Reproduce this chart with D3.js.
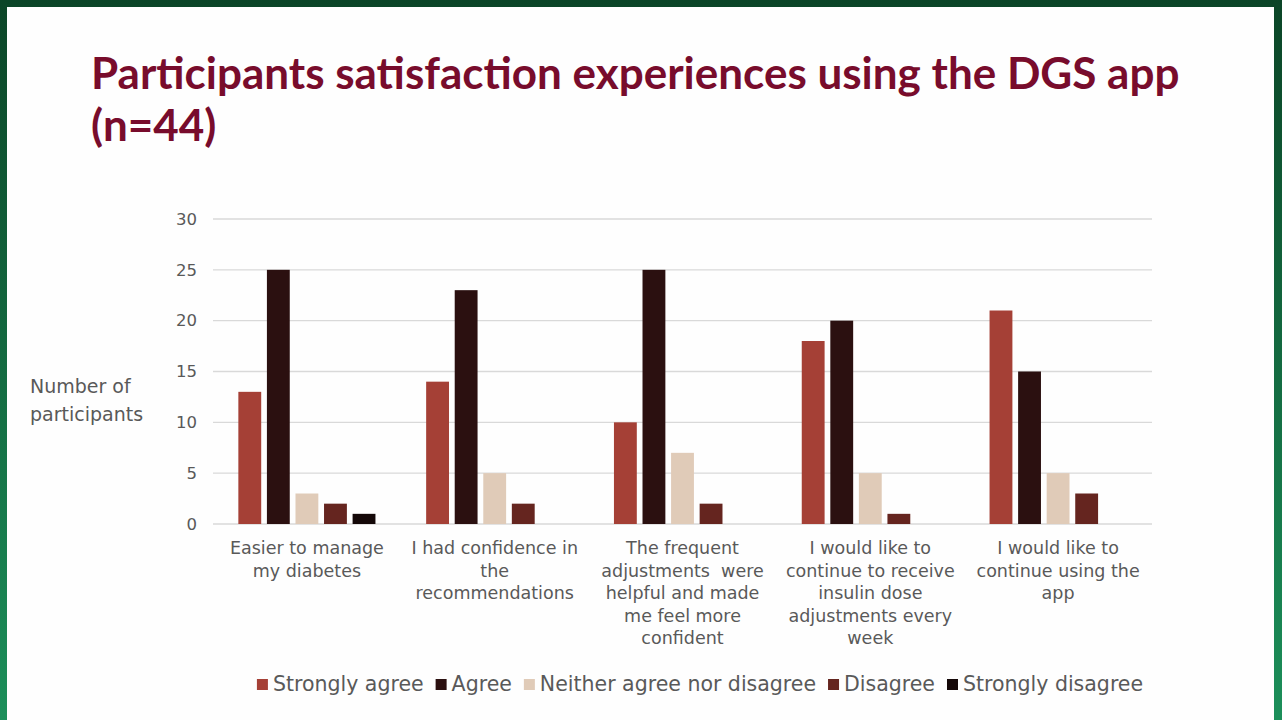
<!DOCTYPE html>
<meta charset="utf-8">
<style>
body { margin: 0; }
svg { display: block; }
.title { font: bold 44px Lato, sans-serif; fill: #780c2c; }
.axis text, .xlab, .ylab, .legend text { font-family: "DejaVu Sans", sans-serif; fill: #595959; }
.xlab { white-space: pre; }
</style>
<svg width="1282" height="720"></svg>
<script src="https://d3js.org/d3.v7.min.js"></script>
<script>

var categories = [
  ["Easier to manage", "my diabetes"],
  ["I had confidence in", "the", "recommendations"],
  ["The frequent", "adjustments  were", "helpful and made", "me feel more", "confident"],
  ["I would like to", "continue to receive", "insulin dose", "adjustments every", "week"],
  ["I would like to", "continue using the", "app"]
];

var seriesNames = ["Strongly agree", "Agree", "Neither agree nor disagree", "Disagree", "Strongly disagree"];
var colors = ["#a54036", "#2b1010", "#e0cbb8", "#65251f", "#140808"];

var stronglyAgree = [13, 14, 10, 18, 21];
var agree = [25, 23, 25, 20, 15];
var neither = [3, 5, 7, 5, 5];
var disagree = [2, 2, 2, 1, 3];
var stronglyDisagree = [1, 0, 0, 0, 0];

var yTicks = [0, 5, 10, 15, 20, 25, 30];

var series = [stronglyAgree, agree, neither, disagree, stronglyDisagree];

var svg = d3.select("svg"),
    width = +svg.attr("width"),
    height = +svg.attr("height");

// slide frame
var grad = svg.append("defs").append("linearGradient")
    .attr("id", "frame").attr("x1", 0).attr("y1", 0).attr("x2", 0).attr("y2", 1);
grad.append("stop").attr("offset", "0%").attr("stop-color", "#0b4527");
grad.append("stop").attr("offset", "100%").attr("stop-color", "#1c8f5a");
svg.append("rect").attr("width", width).attr("height", height).attr("fill", "url(#frame)");
svg.append("rect").attr("x", 7).attr("y", 7).attr("width", 1267).attr("height", 713).attr("fill", "#fefefe");

// title
svg.append("text").attr("class", "title").attr("x", 91).attr("y", 89)
    .text("Participants satisfaction experiences using the DGS app");
svg.append("text").attr("class", "title").attr("x", 91).attr("y", 141)
    .text("(n=44)");

var pLeft = 213, pRight = 1152, pTop = 219, pBottom = 524;

var x0 = d3.scaleBand()
    .domain(d3.range(categories.length))
    .range([pLeft, pRight])
    .paddingInner(0.27)
    .paddingOuter(0.135);

var x1 = d3.scaleBand()
    .domain(d3.range(series.length))
    .range([0, x0.bandwidth()])
    .paddingInner(0.2);

var y = d3.scaleLinear().domain([0, 30]).range([pBottom, pTop]);

// gridlines
svg.append("g")
  .selectAll("line")
  .data(yTicks)
  .join("line")
    .attr("x1", pLeft).attr("x2", pRight)
    .attr("y1", d => y(d)).attr("y2", d => y(d))
    .attr("stroke", "#d9d9d9").attr("stroke-width", 1.3);

// y axis labels
var yAxis = svg.append("g").attr("class", "axis")
    .attr("transform", "translate(" + (pLeft - 4) + ",0)")
    .call(d3.axisLeft(y).tickValues(yTicks).tickSize(0).tickPadding(12));
yAxis.select(".domain").remove();
yAxis.selectAll("text").style("font-size", "16.5px");

// bars
var groups = svg.append("g")
  .selectAll("g")
  .data(categories)
  .join("g")
    .attr("transform", (d, i) => "translate(" + x0(i) + ",0)");

groups.selectAll("rect")
  .data((d, i) => series.map((s, j) => ({ j: j, v: s[i] })))
  .join("rect")
    .attr("x", d => x1(d.j))
    .attr("width", x1.bandwidth())
    .attr("y", d => y(d.v))
    .attr("height", d => y(0) - y(d.v))
    .attr("fill", d => colors[d.j]);

// category labels
groups.append("text")
    .attr("class", "xlab")
    .attr("text-anchor", "middle")
    .style("font-size", "17.5px")
  .selectAll("tspan")
  .data(d => d)
  .join("tspan")
    .attr("x", x0.bandwidth() / 2)
    .attr("y", (d, i) => 554 + i * 22.5)
    .text(d => d);

// y label
svg.append("text").attr("class", "ylab").style("font-size", "19px")
  .selectAll("tspan")
  .data(["Number of", "participants"])
  .join("tspan")
    .attr("x", 30)
    .attr("y", (d, i) => 393 + i * 28)
    .text(d => d);

// legend
var legend = svg.append("g").attr("class", "legend");
var items = legend.selectAll("g")
  .data(seriesNames)
  .join("g");
items.append("rect")
    .attr("width", 11).attr("height", 11).attr("y", -12)
    .attr("fill", (d, i) => colors[i]);
items.append("text")
    .attr("x", 16)
    .style("font-size", "20.5px")
    .text(d => d);

var offs = 0, pos = [];
items.each(function() {
  pos.push(offs);
  offs += this.getBBox().width + 12;
});
var lx = 700 - (offs - 12) / 2;
items.attr("transform", (d, i) => "translate(" + (lx + pos[i]) + ",691)");

</script>
